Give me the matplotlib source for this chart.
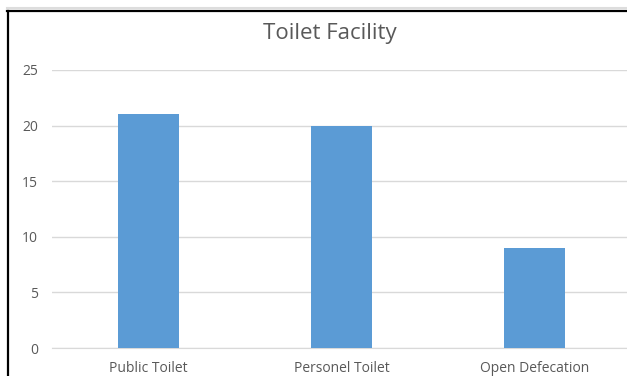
import matplotlib.pyplot as plt
from matplotlib.lines import Line2D

# Data.
categories = ["Public Toilet", "Personel Toilet", "Open Defecation"]
values = [21, 20, 9]
yticks = [0, 5, 10, 15, 20, 25]

W, H = 627, 376
fig = plt.figure(figsize=(W/100., H/100.), dpi=100)
plt.rcParams['font.family'] = ['Open Sans', 'DejaVu Sans']

# Axes placed in pixel terms: x 52..631, y0 at 348, y25 at 70.
ax = fig.add_axes([52./W, 1-348./H, (631.-52)/W, (348.-70)/H])
ax.bar(range(len(values)), values, width=0.316, color="#5B9BD5", zorder=3)
ax.set_xlim(-0.5, len(values)-0.5)
ax.set_ylim(0, 25)
ax.set_yticks(yticks)
ax.set_xticks(range(len(values)))
ax.set_xticklabels(categories)
ax.grid(axis='y', color="#D9D9D9", linewidth=1, zorder=0)
for s in ax.spines.values():
	s.set_visible(False)
ax.spines['bottom'].set_visible(True)
ax.spines['bottom'].set_color("#D9D9D9")
ax.tick_params(axis='both', length=0, colors="#595959", labelsize=10)
ax.tick_params(axis='y', pad=10)
ax.tick_params(axis='x', pad=9)

fig.text(330./W, 1-33./H, "Toilet Facility", ha='center', va='center', fontsize=16, color="#595959")

# Chart frame (top and left edges).
fig.add_artist(Line2D([7./W, 1], [1-8./H, 1-8./H], color="#DDDDDD", linewidth=1.5))
fig.add_artist(Line2D([7./W, 1], [1-10.5/H, 1-10.5/H], color="black", linewidth=1.6))
fig.add_artist(Line2D([7.5/W, 7.5/W], [0, 1-10.5/H], color="black", linewidth=1.6))

fig.savefig("out.png", dpi=100)
